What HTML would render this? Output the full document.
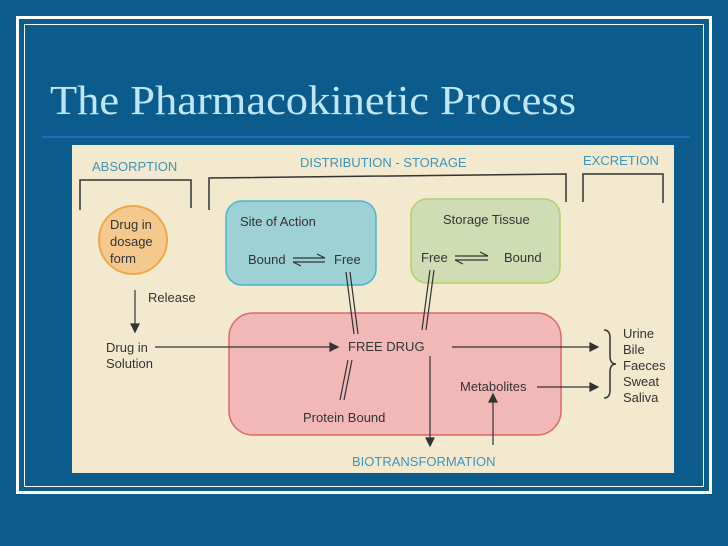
<!DOCTYPE html>
<html><head><style>
html,body{margin:0;padding:0;background:#0b5b8c;}
</style></head><body>
<svg width="728" height="546" xmlns="http://www.w3.org/2000/svg" style="display:block">
<rect width="728" height="546" fill="#0b5b8c"/>
<rect x="17.5" y="17.5" width="693" height="475" fill="none" stroke="#fff" stroke-width="3"/>
<rect x="24.5" y="24.5" width="679" height="462" fill="none" stroke="#fff" stroke-width="1"/>
<text x="50" y="114" font-family="Liberation Serif, serif" font-size="41" textLength="526" lengthAdjust="spacingAndGlyphs" fill="#bfe6f7">The Pharmacokinetic Process</text>
<line x1="42" y1="137" x2="690" y2="137" stroke="#2d6fd6" stroke-width="1.5"/>
<rect x="72" y="145" width="602" height="328" fill="#f2e9cf"/>
<g font-family="Liberation Sans, sans-serif" font-size="13" fill="#3f94b8">
<text x="92" y="171">ABSORPTION</text>
<text x="300" y="167">DISTRIBUTION - STORAGE</text>
<text x="583" y="165">EXCRETION</text>
<text x="352" y="466">BIOTRANSFORMATION</text>
</g>
<g fill="none" stroke="#333" stroke-width="1.5">
<polyline points="80,210 80,180 191,180 191,208"/>
<polyline points="209,210 209,178 566,174 566,202"/>
<polyline points="583,202 583,174 663,174 663,203"/>
</g>
<circle cx="133" cy="240" r="34" fill="#f5c98e" stroke="#eaa94a" stroke-width="2"/>
<rect x="226" y="201" width="150" height="84" rx="16" fill="#9ed1d6" stroke="#4fb2cc" stroke-width="1.5"/>
<rect x="411" y="199" width="149" height="84" rx="16" fill="#cfdcb4" stroke="#b4cf6a" stroke-width="1.5"/>
<rect x="229" y="313" width="332" height="122" rx="24" fill="#f2b8b8" stroke="#e0656e" stroke-width="1.5"/>
<g font-family="Liberation Sans, sans-serif" font-size="13" fill="#333">
<text x="110" y="229">Drug in</text><text x="110" y="246">dosage</text><text x="110" y="263">form</text>
<text x="148" y="302">Release</text>
<text x="240" y="226">Site of Action</text>
<text x="248" y="264">Bound</text><text x="334" y="264">Free</text>
<text x="443" y="224">Storage Tissue</text>
<text x="421" y="262">Free</text><text x="504" y="262">Bound</text>
<text x="106" y="352">Drug in</text><text x="106" y="368">Solution</text>
<text x="348" y="351">FREE DRUG</text>
<text x="303" y="422">Protein Bound</text>
<text x="460" y="391">Metabolites</text>
<text x="623" y="338">Urine</text><text x="623" y="354">Bile</text><text x="623" y="370">Faeces</text><text x="623" y="386">Sweat</text><text x="623" y="402">Saliva</text>
</g>
<g stroke="#333" stroke-width="1.2" fill="#333">
<line x1="135" y1="290" x2="135" y2="326"/><polygon points="131,324 139,324 135,332"/>
<line x1="155" y1="347" x2="332" y2="347"/><polygon points="330,343 330,351 338,347"/>
<line x1="452" y1="347" x2="592" y2="347"/><polygon points="590,343 590,351 598,347"/>
<line x1="537" y1="387" x2="592" y2="387"/><polygon points="590,383 590,391 598,387"/>
<line x1="430" y1="356" x2="430" y2="440"/><polygon points="426,438 434,438 430,446"/>
<line x1="493" y1="445" x2="493" y2="400"/><polygon points="489,402 497,402 493,394"/>
<line x1="293" y1="258" x2="325" y2="258"/><line x1="317" y1="254" x2="325" y2="258"/>
<line x1="293" y1="262" x2="325" y2="262"/><line x1="293" y1="262" x2="301" y2="266"/>
<line x1="455" y1="256" x2="488" y2="256"/><line x1="480" y1="252" x2="488" y2="256"/>
<line x1="455" y1="260" x2="488" y2="260"/><line x1="455" y1="260" x2="463" y2="264"/>
<line x1="346" y1="272" x2="354" y2="334"/><line x1="350" y1="272" x2="358" y2="334"/>
<line x1="430" y1="270" x2="422" y2="330"/><line x1="434" y1="270" x2="426" y2="330"/>
<line x1="348" y1="360" x2="340" y2="400"/><line x1="352" y1="360" x2="344" y2="400"/>
</g>
<path d="M604,330 q6,0 6,8 v18 q0,8 6,8 q-6,0 -6,8 v18 q0,8 -6,8" fill="none" stroke="#333" stroke-width="1.5"/>
</svg>
</body></html>
